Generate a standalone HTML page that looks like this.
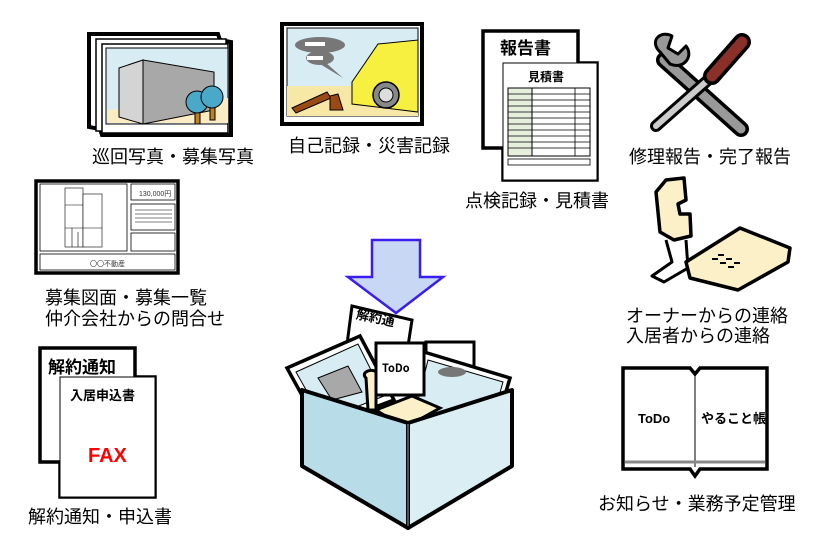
<!DOCTYPE html>
<html><head><meta charset="utf-8"><style>
html,body{margin:0;padding:0;background:#fff;width:836px;height:557px;overflow:hidden}
svg{display:block}
text{font-family:"Liberation Sans","Noto Sans CJK JP",sans-serif}
.l{font-size:18px;fill:#000}
.b{font-weight:bold;font-family:"Noto Sans CJK JP","Liberation Sans",sans-serif}
</style></head><body>
<svg width="836" height="557" viewBox="0 0 836 557" xmlns="http://www.w3.org/2000/svg">
<!-- photo stack -->
<g stroke="#000">
<path d="M89,34 L218,34 L220,40 L231,42 L231,135 L102,135 L100,129 L89,127 Z" fill="#fff" stroke-width="4"/>
<rect x="96" y="39" width="130" height="92" fill="#fff" stroke-width="1.5"/>
<rect x="102" y="44" width="126" height="89" fill="#fff" stroke-width="1.5"/>
<rect x="106" y="48" width="122" height="76" fill="#d8ecf4" stroke-width="1"/>
<path d="M107,110 L228,98 L228,123 L107,123 Z" fill="#fcecc4" stroke="none"/>
<path d="M119,68 L143,60 L143,124 L119,117 Z" fill="#d4d4d4" stroke-width="1"/>
<path d="M143,60 L214,72 L214,110 L143,124 Z" fill="#a8a8a8" stroke-width="1"/>
<rect x="195" y="110" width="5" height="14" fill="#c08020" stroke-width="1"/>
<rect x="210" y="106" width="5" height="14" fill="#c08020" stroke-width="1"/>
<circle cx="197" cy="102" r="11" fill="#4aa8c8" stroke-width="1"/>
<circle cx="212" cy="97" r="11" fill="#4aa8c8" stroke-width="1"/>
</g>
<!-- disaster photo -->
<g stroke="#000">
<rect x="282" y="24" width="140" height="100" fill="#fff" stroke-width="4"/>
<rect x="287" y="28" width="131" height="88" fill="#d8ecf4" stroke-width="1"/>
<rect x="287" y="86" width="131" height="30" fill="#f8e8a8" stroke="none"/>
<ellipse cx="320" cy="45" rx="25" ry="8" fill="#777" stroke="none"/>
<ellipse cx="320" cy="58" rx="14" ry="7" fill="#777" stroke="none"/>
<path d="M325,62 L343,78 L320,64 Z" fill="#777" stroke="none"/>
<rect x="305" y="42" width="20" height="4" fill="#fff" stroke="none"/><rect x="307" y="56" width="16" height="4" fill="#fff" stroke="none"/>
<path d="M292,108 L327,92 L331,98 L296,113 Z" fill="#9a4a12" stroke-width="1"/>
<path d="M330,96 L338,94 L343,110 L330,110 Z" fill="#9a4a12" stroke-width="1"/>
<path d="M352,82 L378,44 L418,40 L418,112 L352,104 Z" fill="#f8f040" stroke-width="1"/>
<circle cx="386" cy="95" r="13" fill="#888" stroke-width="1.5"/><circle cx="386" cy="95" r="7" fill="#ddd" stroke-width="1"/>
</g>
<!-- report -->
<g stroke="#000">
<path d="M483,31 L578,31 L578,63 L597,63 L597,180 L503,180 L503,148 L483,148 Z" fill="#fff" stroke-width="3.5"/>
<rect x="503" y="63" width="94" height="117" fill="#fff" stroke-width="1"/>
<rect x="508" y="88" width="82" height="68" fill="#e6eedc" stroke-width="1"/>
<rect x="532" y="88" width="58" height="68" fill="#fff" stroke-width="1"/>
<path d="M508,94H590M508,100H590M508,106H590M508,112H590M508,118H590M508,124H590M508,130H590M508,136H590M508,142H590M508,148H590M575,88V156" stroke-width="0.8"/>
<rect x="508" y="159" width="82" height="6" fill="#fff" stroke-width="0.8"/>
</g>
<text x="500" y="54" class="b" font-size="17">報告書</text>
<text x="528" y="81" class="b" font-size="12">見積書</text>
<!-- tools -->
<g stroke-linecap="round">
<line x1="664" y1="60" x2="741" y2="129" stroke="#000" stroke-width="16"/>
<line x1="664" y1="60" x2="741" y2="129" stroke="#999" stroke-width="9"/>
<path d="M660,52 C648,40 662,30 672,36 L668,48 L678,54 L686,46 C694,56 684,70 670,64 Z" fill="#999" stroke="#000" stroke-width="3" stroke-linejoin="round"/>
<line x1="708" y1="80" x2="656" y2="126" stroke="#000" stroke-width="12"/>
<line x1="708" y1="80" x2="656" y2="126" stroke="#ccc" stroke-width="6"/>
<line x1="742" y1="42" x2="712" y2="76" stroke="#000" stroke-width="18"/>
<line x1="742" y1="42" x2="712" y2="76" stroke="#8a3028" stroke-width="11"/>
</g>
<!-- phone -->
<g stroke="#000" stroke-width="3.5" stroke-linejoin="round">
<path d="M666,180 L684,178 L686,200 L678,204 L680,214 L690,214 L691,236 L674,240 L660,232 L656,192 Z" fill="#fcf0c8"/>
<path d="M666,240 L672,262 L652,276 L664,282 L688,268 L686,240" fill="none" stroke-width="3"/>
<path d="M686,262 L740,228 L790,248 L788,262 L738,290 L690,278 Z" fill="#fcf0c8"/>
</g>
<g fill="#000"><rect x="712" y="258" width="6" height="2"/><rect x="720" y="262" width="6" height="2"/><rect x="728" y="266" width="6" height="2"/><rect x="718" y="254" width="6" height="2"/><rect x="726" y="258" width="6" height="2"/><rect x="734" y="262" width="6" height="2"/></g>
<!-- floorplan -->
<g stroke="#000" fill="#fff">
<rect x="36" y="181" width="142" height="92" stroke-width="3.5"/>
<rect x="40" y="184" width="87" height="67" stroke-width="0.8"/>
<rect x="131" y="184" width="44" height="16" stroke-width="0.8"/>
<rect x="131" y="204" width="44" height="26" stroke-width="0.8"/>
<rect x="131" y="233" width="44" height="18" stroke-width="0.8"/>
<rect x="40" y="254" width="135" height="16" stroke-width="0.8"/>
<rect x="65" y="188" width="18" height="59" stroke-width="0.6"/>
<rect x="83" y="194" width="19" height="53" stroke-width="0.6"/>
<path d="M65,205H83M65,228H102M72,228V247M78,232V247M135,210H172M135,214H172M135,218H172M135,222H172" stroke-width="0.6" fill="none"/>
</g>
<text x="139" y="196" font-size="7" fill="#333">130,000円</text>
<text x="90" y="266" font-size="7" fill="#333">〇〇不動産</text>
<!-- FAX docs -->
<g stroke="#000">
<path d="M40,348 L135,348 L135,377 L155,377 L155,497 L60,497 L60,462 L40,462 Z" fill="#fff" stroke-width="3.5"/>
<rect x="60" y="377" width="95" height="120" fill="#fff" stroke-width="1"/>
</g>
<text x="48" y="373" class="b" font-size="17">解約通知</text>
<text x="70" y="400" class="b" font-size="13">入居申込書</text>
<text x="88" y="462" font-size="20" font-weight="bold" fill="#f00" font-family="Liberation Sans Narrow,Liberation Sans,sans-serif">FAX</text>
<!-- box contents -->
<g stroke="#000">
<path d="M352,306 L412,320 L404,372 L346,352 Z" fill="#fff" stroke-width="3"/>
<path d="M287,368 L360,336 L394,400 L320,428 Z" fill="#fff" stroke-width="3.5"/>
<path d="M296,372 L358,344 L384,396 L323,420 Z" fill="#d8ecf4" stroke-width="1"/>
<path d="M318,378 L348,366 L362,392 L332,400 Z" fill="#a8a8a8" stroke-width="1"/>
<rect x="426" y="342" width="48" height="55" fill="#fff" stroke-width="3"/>
<path d="M424,352 L510,378 L490,446 L410,420 Z" fill="#fff" stroke-width="3.5"/>
<path d="M428,360 L503,382 L487,438 L414,416 Z" fill="#d8ecf4" stroke-width="1"/>
<path d="M418,405 L492,426 L487,438 L414,416 Z" fill="#f8e8a8" stroke="none"/>
<ellipse cx="452" cy="372" rx="14" ry="5" fill="#777" stroke="none"/>
<path d="M465,410 L480,400 L490,412 L472,420 Z" fill="#f8f040" stroke-width="0.8"/>
<rect x="376" y="343" width="48" height="52" fill="#fff" stroke-width="3"/>
<path d="M366,378 C360,372 372,368 376,372 L376,410 L368,410 Z" fill="#fcf0c8" stroke-width="3"/>
<path d="M376,410 L412,396 L440,408 L404,428 Z" fill="#fcf0c8" stroke-width="3"/>
</g>
<text x="382" y="372" class="b" font-size="11" font-family="Liberation Sans,sans-serif">ToDo</text>
<text x="356" y="323" class="b" font-size="13" transform="rotate(12 378 318)">解約通</text>
<!-- box -->
<g stroke="#000" stroke-width="4" stroke-linejoin="round">
<path d="M302,390 L408,423 L408,528 L302,466 Z" fill="#b8dce8"/>
<path d="M408,423 L512,390 L512,466 L408,528 Z" fill="#daeef4"/>
</g>
<line x1="408" y1="424" x2="408" y2="526" stroke="#8ab" stroke-width="1"/>
<!-- arrow -->
<path d="M372,240 L420,240 L420,277 L443,277 L396,313 L348,277 L372,277 Z" fill="#c8d8f4" stroke="#3a1ef0" stroke-width="2.5" stroke-linejoin="miter"/>
<!-- book -->
<g stroke="#000">
<path d="M623,368 L690,368 L695,374 L700,368 L767,368 L767,469 L700,469 L695,476 L690,469 L623,469 Z" fill="#fff" stroke-width="3.5"/>
<line x1="695" y1="373" x2="695" y2="467" stroke-width="1"/>
<path d="M625,462 L765,462" stroke="#888" stroke-width="3"/>
</g>
<text x="638" y="423" font-size="13" font-weight="bold" font-family="Liberation Sans,sans-serif">ToDo</text>
<text x="701" y="423" class="b" font-size="13">やること帳</text>
<!-- labels -->
<text x="92" y="163" class="l">巡回写真・募集写真</text>
<text x="288" y="152" class="l">自己記録・災害記録</text>
<text x="465" y="207" class="l">点検記録・見積書</text>
<text x="629" y="163" class="l">修理報告・完了報告</text>
<text x="626" y="322" class="l">オーナーからの連絡</text>
<text x="626" y="342" class="l">入居者からの連絡</text>
<text x="45" y="304" class="l">募集図面・募集一覧</text>
<text x="45" y="325" class="l">仲介会社からの問合せ</text>
<text x="28" y="523" class="l">解約通知・申込書</text>
<text x="598" y="510" class="l">お知らせ・業務予定管理</text>
</svg>
</body></html>
